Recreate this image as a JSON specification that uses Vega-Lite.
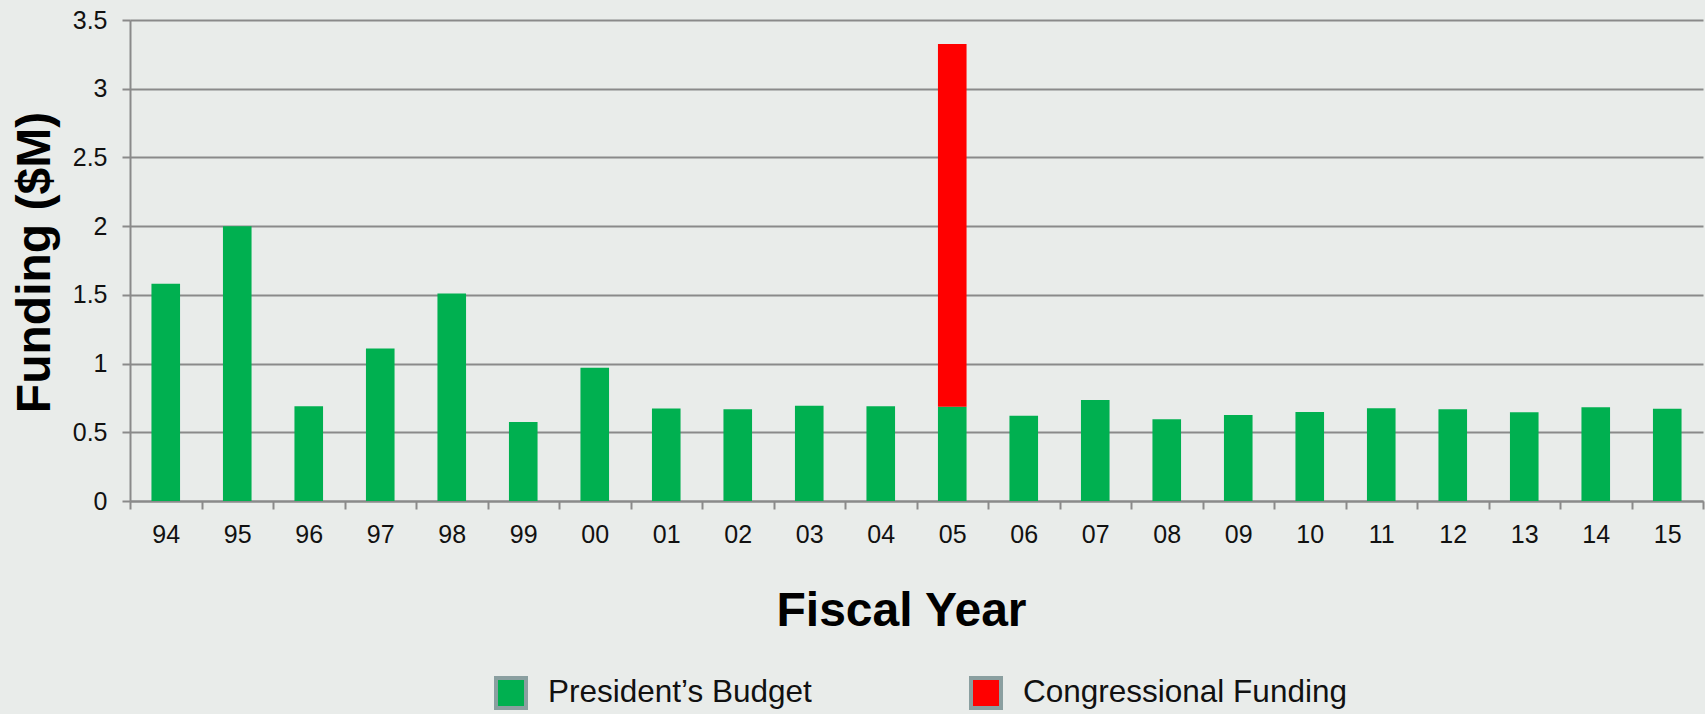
{
  "$schema": "https://vega.github.io/schema/vega-lite/v6.json",
  "autosize": {"type": "none"},
  "padding": {"left": 130, "top": 20, "right": 2, "bottom": 213},
  "width": 1573,
  "height": 481,
  "background": "#e9ecea",
  "config": {
    "view": {"stroke": null},
    "font": "Liberation Sans",
    "axis": {"labelFont": "Liberation Sans", "titleFont": "Liberation Sans"}
  },
  "data": {
    "values": [
      {"year": "94", "series": "President’s Budget", "funding": 1.58},
      {"year": "95", "series": "President’s Budget", "funding": 2.0},
      {"year": "96", "series": "President’s Budget", "funding": 0.69},
      {"year": "97", "series": "President’s Budget", "funding": 1.11},
      {"year": "98", "series": "President’s Budget", "funding": 1.51},
      {"year": "99", "series": "President’s Budget", "funding": 0.575},
      {"year": "00", "series": "President’s Budget", "funding": 0.97},
      {"year": "01", "series": "President’s Budget", "funding": 0.673},
      {"year": "02", "series": "President’s Budget", "funding": 0.668},
      {"year": "03", "series": "President’s Budget", "funding": 0.693},
      {"year": "04", "series": "President’s Budget", "funding": 0.69},
      {"year": "05", "series": "President’s Budget", "funding": 0.685},
      {"year": "05", "series": "Congressional Funding", "funding": 2.64},
      {"year": "06", "series": "President’s Budget", "funding": 0.62},
      {"year": "07", "series": "President’s Budget", "funding": 0.735},
      {"year": "08", "series": "President’s Budget", "funding": 0.595},
      {"year": "09", "series": "President’s Budget", "funding": 0.625},
      {"year": "10", "series": "President’s Budget", "funding": 0.648},
      {"year": "11", "series": "President’s Budget", "funding": 0.675},
      {"year": "12", "series": "President’s Budget", "funding": 0.668},
      {"year": "13", "series": "President’s Budget", "funding": 0.646},
      {"year": "14", "series": "President’s Budget", "funding": 0.682},
      {"year": "15", "series": "President’s Budget", "funding": 0.672}
    ]
  },
  "mark": {"type": "bar", "width": {"band": 0.4}},
  "encoding": {
    "x": {
      "field": "year",
      "type": "ordinal",
      "sort": null,
      "scale": {"paddingInner": 0, "paddingOuter": 0},
      "axis": {
        "title": "Fiscal Year",
        "titleFontSize": 48,
        "titleFontWeight": "bold",
        "titleColor": "#000000",
        "titleX": 771,
        "titleY": 124,
        "titleBaseline": "alphabetic",
        "titleAnchor": null,
        "titleAlign": "center",
        "labelAngle": 0,
        "labelFontSize": 25,
        "labelColor": "#111111",
        "labelBaseline": "alphabetic",
        "labelPadding": 33,
        "tickBand": "extent",
        "tickSize": 8,
        "tickWidth": 2,
        "tickColor": "#8a8a8a",
        "domainColor": "#8a8a8a",
        "domainWidth": 2,
        "grid": false
      }
    },
    "y": {
      "field": "funding",
      "type": "quantitative",
      "stack": "zero",
      "scale": {"domain": [0, 3.5], "nice": false},
      "axis": {
        "title": "Funding ($M)",
        "titleFontSize": 48,
        "titleFontWeight": "bold",
        "titleColor": "#000000",
        "titleAngle": 270,
        "titleX": -95,
        "titleY": 242,
        "titleBaseline": "middle",
        "titleAlign": "center",
        "titleAnchor": null,
        "values": [0, 0.5, 1, 1.5, 2, 2.5, 3, 3.5],
        "format": ".1~f",
        "labelFontSize": 25,
        "labelColor": "#111111",
        "labelPadding": 15,
        "tickSize": 8,
        "tickWidth": 2,
        "tickColor": "#8a8a8a",
        "domainColor": "#8a8a8a",
        "domainWidth": 2,
        "grid": true,
        "gridColor": "#8a8a8a",
        "gridWidth": 2,
        "gridOpacity": 1
      }
    },
    "color": {
      "field": "series",
      "type": "nominal",
      "scale": {
        "domain": ["President’s Budget", "Congressional Funding"],
        "range": ["#00b050", "#ff0000"]
      },
      "legend": {
        "title": null,
        "orient": "none",
        "legendX": 364,
        "legendY": 656,
        "direction": "horizontal",
        "columns": 2,
        "columnPadding": 151,
        "symbolType": "square",
        "symbolSize": 900,
        "symbolStrokeWidth": 4,
        "symbolStrokeColor": "#8a9fa0",
        "symbolOpacity": 1,
        "labelFontSize": 31.5,
        "labelColor": "#111111",
        "labelOffset": 20,
        "labelLimit": 500,
        "encode": {
          "symbols": {"update": {"stroke": {"value": "#8a9fa0"}, "strokeWidth": {"value": 4}}}
        }
      }
    },
    "order": {"field": "series", "sort": "descending"}
  }
}
